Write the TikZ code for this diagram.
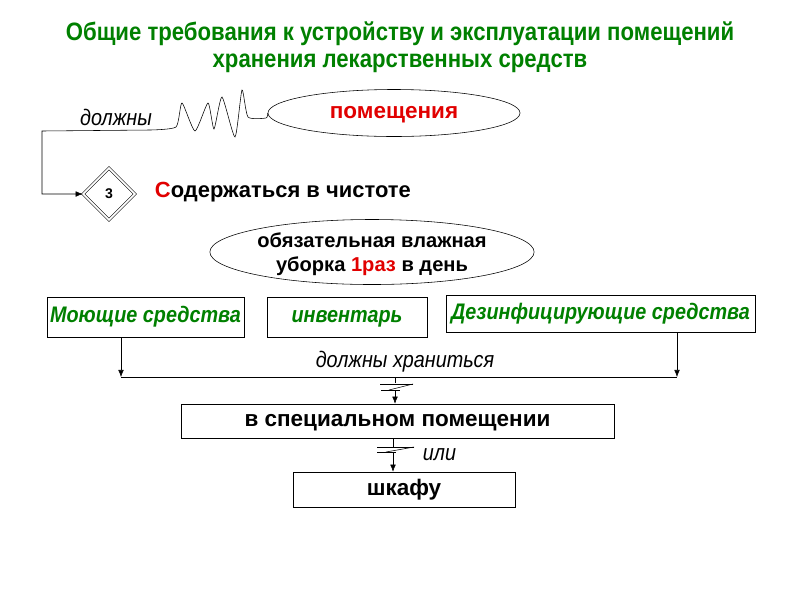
\documentclass[tikz,border=0pt]{standalone}
\usepackage{fontspec}
\setmainfont{Liberation Sans}
\newfontfamily\narrowfont[FakeStretch=0.88]{Liberation Sans}
\usetikzlibrary{arrows.meta,shapes.geometric,calc}
\definecolor{dkgreen}{RGB}{0,128,0}
\definecolor{brred}{RGB}{225,0,0}
\tikzset{
  box/.style={draw,thin,rectangle,inner sep=0pt,text height=8pt,text depth=0pt},
  oval/.style={draw,thin,ellipse,inner sep=0pt},
  link/.style={-{Latex[length=5pt,width=4pt]},thin},
  zap/.style={thin},
  boldtext/.style={font=\bfseries\fontsize{16}{19}\selectfont},
  greentext/.style={font=\narrowfont\bfseries\itshape\fontsize{16}{19}\selectfont,text=dkgreen},
  verb/.style={font=\narrowfont\itshape\fontsize{16}{19}\selectfont}
}

\begin{document}
\begin{tikzpicture}[x=0.025cm,y=-0.025cm]
    \useasboundingbox (0,0) rectangle (800,600);

    % title
    \node[font=\narrowfont\bfseries\fontsize{17.9}{19}\selectfont,text=dkgreen,align=center] (title) at (400,47)
      {Общие требования к устройству и эксплуатации помещений\\хранения лекарственных средств};

    % top part
    \node[oval,minimum width=6.3cm,minimum height=1.175cm,boldtext,text=brred,
      text height=8pt,text depth=0pt] (room) at (394,113) {помещения};
    \node[draw,diamond,double,double distance=1.2pt,inner sep=0pt,minimum width=1.3cm,minimum height=1.3cm,
      font=\bfseries\fontsize{10}{12}\selectfont] (three) at (109,194) {3};
    \node[font=\bfseries\fontsize{15.6}{19}\selectfont,anchor=west] (clean) at (150,192)
      {\textcolor{brred}{С}одержаться в чистоте};
    \node[verb,anchor=base] (must) at (116,125) {должны};
    \coordinate (corner) at (42,131);
    \draw[link] plot[smooth,tension=0.35] coordinates {(room.west) (266,118) (248,117) (242,90) (235,137)
      (222,97) (214,129) (208,103) (195,131) (182,103) (176,127) (150,130)} -- (corner) |- (three.west);

    \node[oval,minimum width=7.5cm,minimum height=1.625cm,align=center,text depth=0pt,
      font=\bfseries\fontsize{14.3}{17}\selectfont] (wet) at (372,252)
      {обязательная влажная\\уборка \textcolor{brred}{1раз} в день};

    % means
    \node[box,minimum width=4.925cm,minimum height=1cm,greentext] (wash) at (145.5,317) {Моющие средства};
    \node[box,minimum width=4cm,minimum height=1cm,greentext] (inv) at (347,317) {инвентарь};
    \node[box,minimum width=7.725cm,minimum height=0.925cm,greentext] (dez) at (600.5,313.5) {Дезинфицирующие средства};

    \coordinate (busL) at (121,377);
    \coordinate (busR) at (677,377);
    \draw[link] (busL |- wash.south) -- (busL);
    \draw[link] (busR |- dez.south) -- (busR);
    \draw (busL) -- (busR);
    \node[verb] (keep) at (405,362) {должны храниться};

    % storage
    \node[box,minimum width=10.825cm,minimum height=0.85cm,boldtext] (spec) at (397.5,421) {в специальном помещении};
    \node[box,minimum width=5.55cm,minimum height=0.875cm,boldtext] (shelf) at (404,489.5) {шкафу};

    \coordinate (zap1) at (395,377);
    \draw[zap] (zap1) -- ++(0,6);
    \draw[zap] (380,384) -- (413,384);
    \draw[zap] (381,390) -- (400,390);
    \draw[zap] (389,390) -- (413,384);
    \draw[link] (395,390) -- (zap1 |- spec.north);

    \coordinate (zap2) at (393,438);
    \draw[zap] (zap2) -- ++(0,9);
    \draw[zap] (377,447) -- (414,447);
    \draw[zap] (377,452) -- (396,452);
    \draw[zap] (386,452) -- (414,447);
    \draw[link] (393,452) -- (zap2 |- shelf.north);
    \node[verb,anchor=west] (orr) at (418,455) {или};
\end{tikzpicture}
\end{document}
